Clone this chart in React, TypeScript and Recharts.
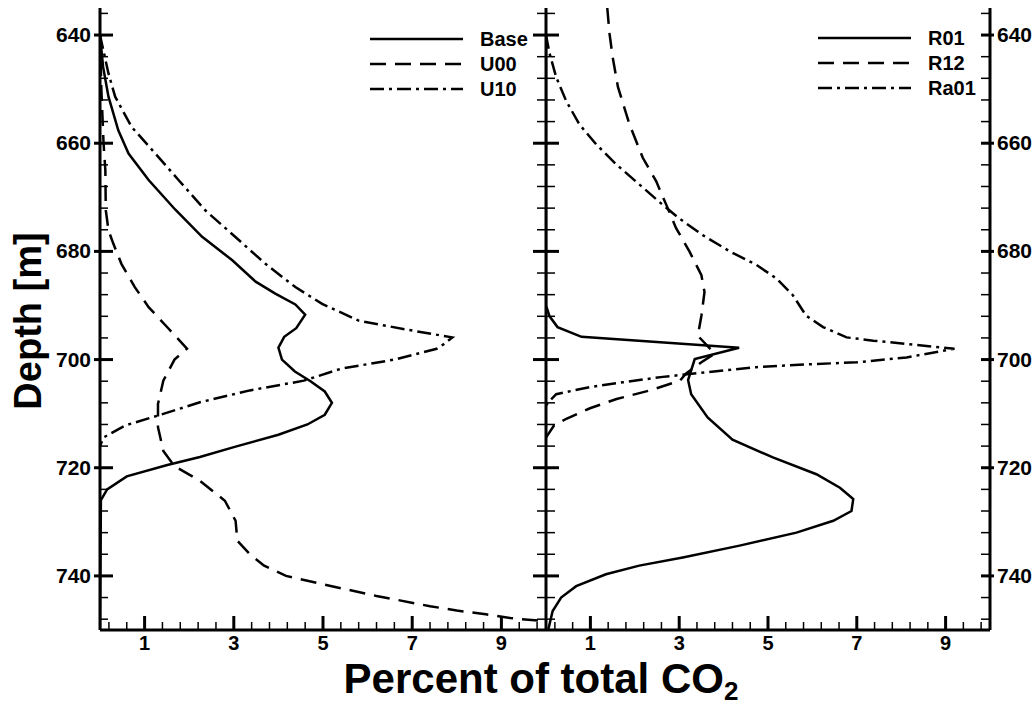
import React from 'react';
import { ScatterChart, Scatter, XAxis, YAxis, Legend } from 'recharts';

// [depth m, percent of total CO2]
const BASE: [number, number][] = [
  [640, 0], [645.9, 0.07], [651.4, 0.19], [657.6, 0.41], [661.9, 0.64], [666.8, 1.09],
  [672.3, 1.69], [677.3, 2.29], [681.6, 2.96], [685.6, 3.49], [687.8, 3.93], [689.8, 4.38],
  [691.7, 4.6], [694.2, 4.4], [695.8, 4.13], [697.8, 4.0], [700, 4.08], [702.2, 4.37],
  [704, 4.72], [705.9, 5.04], [708, 5.2], [710.2, 5.04], [712, 4.65], [713.9, 4.0],
  [716.1, 3.04], [718, 2.24], [719.5, 1.51], [721.6, 0.6], [724, 0.16], [726, 0.02], [750, 0],
];
const U00: [number, number][] = [
  [640, 0], [650, 0.03], [660, 0.08], [665, 0.12], [672.4, 0.13], [676.1, 0.19], [678.6, 0.3],
  [682.3, 0.48], [686.6, 0.78], [690.3, 1.09], [694.3, 1.54], [698, 1.95], [700, 1.67],
  [703.9, 1.42], [708.2, 1.3], [712.5, 1.3], [716.9, 1.42], [719.7, 1.67], [722.4, 2.24],
  [726.1, 2.8], [729.8, 3.04], [733.5, 3.08], [736, 3.36], [738.1, 3.68], [740, 4.17],
  [741.5, 4.97], [743.7, 6.2], [745.6, 7.4], [746.4, 8.0], [747.1, 8.65], [747.8, 9.2], [748.4, 10],
];
const U10: [number, number][] = [
  [640, 0], [647.1, 0.19], [651.4, 0.34], [657, 0.71], [661.9, 1.24], [666.8, 1.76],
  [672.4, 2.36], [677.3, 3.03], [682.3, 3.71], [686.6, 4.38], [689.7, 4.98], [692.8, 5.8],
  [694.5, 6.9], [695.9, 7.9], [697.2, 7.7], [698, 7.55], [700, 6.6], [701.7, 5.4],
  [703.9, 4.57], [705.7, 3.36], [707.9, 2.24], [710.4, 1.28], [712.2, 0.56], [714.4, 0.08], [716, 0],
];
const R01: [number, number][] = [
  [640, 0], [690, 0], [692, 0.08], [694, 0.26], [695.8, 0.8], [697.8, 4.35], [699.9, 3.35],
  [703.8, 3.2], [706.4, 3.27], [710.7, 3.64], [714.8, 4.2], [718.1, 5.11], [721.2, 6.09],
  [723.7, 6.62], [725.8, 6.92], [728, 6.88], [729.8, 6.47], [732, 5.64], [734.4, 4.36],
  [736.6, 3.08], [738.1, 2.1], [739.7, 1.35], [741.9, 0.68], [744, 0.34], [746.5, 0.15],
  [749.6, 0.06], [750, 0.05],
];
const R12: [number, number][] = [
  [635, 1.38], [639.7, 1.43], [644, 1.5], [649.6, 1.62], [656.5, 1.88], [662.7, 2.18],
  [667, 2.48], [671.4, 2.71], [675.7, 2.93], [680, 3.23], [684.4, 3.5], [687.5, 3.57],
  [691.9, 3.5], [695.6, 3.42], [698.9, 3.8], [700.5, 3.5], [702.6, 3.15], [703.9, 3.02],
  [705.7, 2.34], [707.3, 1.59], [709, 0.99], [710.9, 0.47], [712.2, 0.18], [714.4, 0],
];
const RA01: [number, number][] = [
  [640, 0], [643.4, 0.08], [647.8, 0.23], [652.1, 0.45], [656.5, 0.75], [660.2, 1.13],
  [663.9, 1.58], [667.6, 2.1], [671.4, 2.63], [673.9, 3.0], [677, 3.53], [680, 4.14],
  [682.5, 4.74], [685, 5.19], [688.1, 5.56], [691.9, 5.86], [694, 6.24], [695.9, 6.77],
  [696.5, 7.37], [697.1, 8.12], [698, 9.2], [698.6, 8.8], [699.6, 8.12], [700.5, 7.0],
  [700.9, 5.86], [701.4, 4.74], [702.3, 3.68], [703.2, 2.63], [704.2, 1.73], [705.1, 0.98],
  [706.4, 0.23], [707.9, 0.05], [708.5, 0],
];

const X_TICKS = [0.2, 0.6, 1, 1.4, 1.8, 2.2, 2.6, 3, 3.4, 3.8, 4.2, 4.6, 5, 5.4, 5.8, 6.2, 6.6, 7, 7.4, 7.8, 8.2, 8.6, 9, 9.4, 9.8];
const X_LABELS = [1, 3, 5, 7, 9];
const Y_TICKS = [636, 640, 644, 648, 652, 656, 660, 664, 668, 672, 676, 680, 684, 688, 692, 696, 700, 704, 708, 712, 716, 720, 724, 728, 732, 736, 740, 744, 748];
const Y_LABELS = [640, 660, 680, 700, 720, 740];

const DASH = '16 9';
const DASHDOT = '14 5 3 5';

const LEFT_SERIES = [
  { name: 'Base', rows: BASE, dash: undefined },
  { name: 'U00', rows: U00, dash: DASH },
  { name: 'U10', rows: U10, dash: DASHDOT },
];
const RIGHT_SERIES = [
  { name: 'R01', rows: R01, dash: undefined },
  { name: 'R12', rows: R12, dash: DASH },
  { name: 'Ra01', rows: RA01, dash: DASHDOT },
];

const FONT = '"Liberation Sans", Arial, Helvetica, sans-serif';
const toPoints = (rows: [number, number][]) => rows.map(([d, v]) => ({ d, v }));

const label = (x: number, y: number, anchor: string, text: any, size = 21) => (
  <text x={x} y={y} textAnchor={anchor} fontFamily={FONT} fontWeight="bold" fontSize={size} fill="#000">{text}</text>
);

const BottomTick = ({ x, y, payload }: any) => {
  const major = X_LABELS.includes(payload.value);
  return (
    <g>
      <line x1={x} x2={x} y1={y} y2={y - (major ? 14 : 8)} stroke="#000" strokeWidth={major ? 3 : 1.5} />
      {major && label(x, y + 20, 'middle', payload.value, 20)}
    </g>
  );
};

const TopTick = ({ x, y, payload }: any) => {
  const major = X_LABELS.includes(payload.value);
  return <line x1={x} x2={x} y1={y} y2={y + (major ? 13 : 8)} stroke="#000" strokeWidth={major ? 3 : 1.5} />;
};

const OuterLeftTick = ({ x, y, payload }: any) => {
  const major = Y_LABELS.includes(payload.value);
  return (
    <g>
      <line x1={major ? x - 6 : x} x2={x + (major ? 13 : 8)} y1={y} y2={y} stroke="#000" strokeWidth={major ? 3 : 1.5} />
      {major && label(x - 9, y + 7, 'end', payload.value)}
    </g>
  );
};

const DividerTick = ({ x, y, payload }: any) => {
  const major = Y_LABELS.includes(payload.value);
  const len = major ? 13 : 9;
  return <line x1={x - len} x2={x + len} y1={y} y2={y} stroke="#000" strokeWidth={major ? 3 : 1.5} />;
};

const OuterRightTick = ({ x, y, payload }: any) => {
  const major = Y_LABELS.includes(payload.value);
  return (
    <g>
      <line x1={x - 9} x2={major ? x + 4 : x} y1={y} y2={y} stroke="#000" strokeWidth={major ? 3 : 1.5} />
      {major && label(x + 7, y + 7, 'start', payload.value)}
    </g>
  );
};

const LegendBox = ({ items }: any) => (
  <svg width={200} height={80} style={{ display: 'block' }}>
    {items.map((s: any, i: number) => (
      <g key={s.name}>
        <line x1={5} x2={98} y1={13 + i * 25} y2={13 + i * 25} stroke="#000" strokeWidth={2.5} strokeDasharray={s.dash} />
        {label(115, 20 + i * 25, 'start', s.name, 20)}
      </g>
    ))}
  </svg>
);

const axisLine = { stroke: '#000', strokeWidth: 3 };

const Panel = ({ series, side }: any) => {
  const left = side === 'left';
  return (
    <ScatterChart
      width={left ? 560 : 547}
      height={706}
      margin={{ top: 8, right: left ? 14 : 0, bottom: 36, left: 0 }}
    >
      <XAxis xAxisId="b" type="number" dataKey="v" domain={[0, 10]} allowDataOverflow ticks={X_TICKS} interval={0}
        tickSize={0} tickMargin={0} tickLine={false} axisLine={axisLine} height={40} tick={<BottomTick />} />
      <XAxis xAxisId="t" orientation="top" type="number" dataKey="v" domain={[0, 10]} allowDataOverflow ticks={X_TICKS} interval={0}
        tickSize={0} tickMargin={0} tickLine={false} axisLine={{ stroke: '#000', strokeWidth: 2.5 }} height={0} tick={<TopTick />} />
      <YAxis yAxisId="l" type="number" dataKey="d" domain={[635, 750]} reversed allowDataOverflow ticks={Y_TICKS} interval={0}
        tickSize={0} tickMargin={0} tickLine={false} axisLine={axisLine} width={left ? 100 : 60}
        tick={left ? <OuterLeftTick /> : <DividerTick />} />
      {!left && (
        <YAxis yAxisId="r" orientation="right" type="number" dataKey="d" domain={[635, 750]} reversed allowDataOverflow ticks={Y_TICKS} interval={0}
          tickSize={0} tickMargin={0} tickLine={false} axisLine={axisLine} width={43} tick={<OuterRightTick />} />
      )}
      {series.map((s: any) => (
        <Scatter key={s.name} name={s.name} data={toPoints(s.rows)} xAxisId="b" yAxisId="l" fill="none"
          shape={() => <g />} legendType="none" isAnimationActive={false}
          line={{ stroke: '#000', strokeWidth: 2.5, strokeDasharray: s.dash }} lineType="joint" />
      ))}
      <Legend layout="vertical" align="center" verticalAlign="middle"
        wrapperStyle={left ? { left: 365, top: 26, width: 200, height: 80 } : { left: 327, top: 25, width: 200, height: 80 }}
        content={() => <LegendBox items={series} />} />
    </ScatterChart>
  );
};

export default function App() {
  return (
    <div style={{ position: 'absolute', left: 0, top: 0, width: 1033, height: 706, background: '#fff', overflow: 'hidden' }}>
      <div style={{ position: 'absolute', left: 0, top: 0 }}>
        <Panel series={LEFT_SERIES} side="left" />
      </div>
      <div style={{ position: 'absolute', left: 486, top: 0 }}>
        <Panel series={RIGHT_SERIES} side="right" />
      </div>
      <svg width={1033} height={706} style={{ position: 'absolute', left: 0, top: 0, pointerEvents: 'none' }}>
        <text x={541} y={693} textAnchor="middle" fontFamily={FONT} fontWeight="bold" fontSize={42} fill="#000">
          Percent of total CO<tspan dy={7} fontSize={26}>2</tspan>
        </text>
        <text x={41} y={321} transform="rotate(-90 41 321)" textAnchor="middle" fontFamily={FONT} fontWeight="bold" fontSize={38} fill="#000">
          Depth [m]
        </text>
      </svg>
    </div>
  );
}
